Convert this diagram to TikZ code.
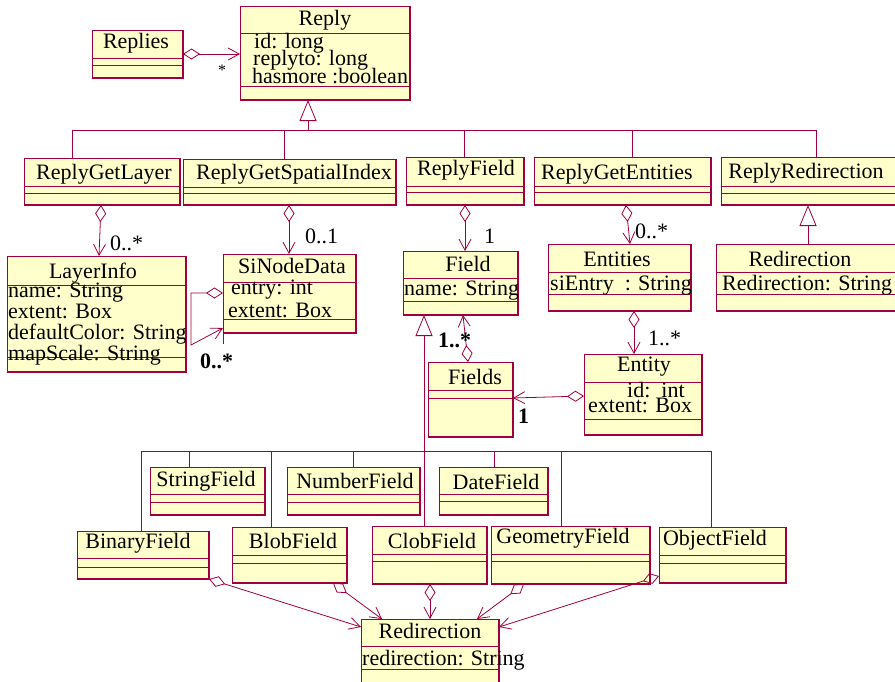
\documentclass[tikz,border=0pt]{standalone}
\usepackage{fontspec}
\setmainfont{Liberation Serif}
\usetikzlibrary{arrows.meta}
\definecolor{umlred}{RGB}{160,0,64}
\definecolor{umlfill}{RGB}{255,255,204}

\tikzset{
  classbox/.style={rectangle, draw=umlred, fill=umlfill, line width=0.9pt, inner sep=0pt, outer sep=0pt},
  sepline/.style={draw=umlred, line width=0.8pt},
  edgeline/.style={draw=umlred, line width=1.8pt},
  conn/.style={draw=umlred, line width=0.8pt},
  agg/.style={conn, {Diamond[open,length=17pt,width=11pt]}-{Straight Barb[length=11pt,width=12pt]}},
  gen/.style={conn, -{Triangle[length=21pt,width=17pt,fill=white]}},
  title/.style={font=\fontsize{22}{24}\selectfont, inner sep=0pt, anchor=base},
  attr/.style={font=\fontsize{22}{24}\selectfont, inner sep=0pt, anchor=base west, text height=13pt, text depth=2pt},
  mult/.style={font=\fontsize{22}{24}\selectfont, inner sep=0pt, anchor=base west},
  multb/.style={font=\fontsize{22}{24}\selectfont\bfseries, inner sep=0pt, anchor=base west}
}

% class box: name, x1, y1, x2, y2, first separator, second separator
\newcommand{\umlclassbox}[7]{%
  \node[classbox, minimum width={#4-#2}, minimum height={#5-#3}] (#1) at ({(#2+#4)/2},{(#3+#5)/2}) {};
  \draw[sepline] (#1.west |- 0,#6) -- (#1.east |- 0,#6);
  \draw[sepline] (#1.west |- 0,#7) -- (#1.east |- 0,#7);
  \draw[edgeline] (#1.north east) -- (#1.south east) -- (#1.south west);
}

\begin{document}
\begin{tikzpicture}[x=1pt,y=-1pt]
\useasboundingbox (0,0) rectangle (895,681);
\clip (0,0) rectangle (895,681);
\fill[white] (0,0) rectangle (895,681);

% ---- classes
\umlclassbox{replies}{92}{30}{183}{78}{58}{65}
\umlclassbox{reply}{240}{6}{410}{100}{33}{86}
\umlclassbox{replygetlayer}{24}{158}{180}{205}{186}{193}
\umlclassbox{replygetspatialindex}{183}{159}{396}{205}{187}{193}
\umlclassbox{replyfield}{406}{157}{524}{205}{186}{192}
\umlclassbox{replygetentities}{534}{157}{711}{205}{186}{192}
\umlclassbox{replyredirection}{721}{157}{905}{205}{186}{193}
\umlclassbox{layerinfo}{7}{256}{186}{372}{285}{357}
\umlclassbox{sinodedata}{223}{254}{356}{333}{282}{319}
\umlclassbox{field}{403}{251}{518}{315}{278}{301}
\umlclassbox{entities}{548}{244}{691}{311}{272}{294}
\umlclassbox{redirectionR}{716}{244}{905}{311}{272}{294}
\umlclassbox{entity}{584}{354}{702}{435}{382}{419}
\umlclassbox{fields}{428}{362}{513}{437}{390}{398}
\umlclassbox{stringfield}{150}{467}{265}{515}{494}{502}
\umlclassbox{numberfield}{287}{467}{420}{515}{494}{502}
\umlclassbox{datefield}{439}{467}{548}{515}{494}{501}
\umlclassbox{binaryfield}{77}{531}{209}{579}{558}{567}
\umlclassbox{blobfield}{232}{527}{347}{583}{555}{563}
\umlclassbox{clobfield}{372}{526}{487}{584}{554}{561}
\umlclassbox{geometryfield}{491}{526}{650}{584}{554}{561}
\umlclassbox{objectfield}{659}{527}{786}{583}{555}{563}
\umlclassbox{redirectionB}{361}{619}{499}{700}{646}{669}

% ---- inheritance from Reply
\coordinate (b0) at (308,130);
\coordinate (b1) at (72,130);
\coordinate (b2) at (284,130);
\coordinate (b3) at (464,130);
\coordinate (b4) at (632,130);
\coordinate (b5) at (816,130);
\draw[gen] (b0) -- (b0 |- reply.south);
\draw[conn] (b1) -- (b5);
\draw[conn] (b1) -- (b1 |- replygetlayer.north);
\draw[conn] (b2) -- (b2 |- replygetspatialindex.north);
\draw[conn] (b3) -- (b3 |- replyfield.north);
\draw[conn] (b4) -- (b4 |- replygetentities.north);
\draw[conn] (b5) -- (b5 |- replyredirection.north);

% ---- inheritance from Field
\coordinate (f0) at (424,451);
\coordinate (f1) at (141,451);
\coordinate (f2) at (711,451);
\coordinate (g1) at (189,451);
\coordinate (g2) at (271,451);
\coordinate (g3) at (353,451);
\coordinate (g4) at (494,451);
\coordinate (g5) at (561,451);
\draw[gen] (f0 |- clobfield.north) -- (f0 |- field.south);
\draw[conn] (f1) -- (f2);
\draw[conn] (f1) -- (f1 |- binaryfield.north);
\draw[conn] (f2) -- (f2 |- objectfield.north);
\draw[conn] (g1) -- (g1 |- stringfield.north);
\draw[conn] (g2) -- (g2 |- blobfield.north);
\draw[conn] (g3) -- (g3 |- numberfield.north);
\draw[conn] (g4) -- (g4 |- datefield.north);
\draw[conn] (g5) -- (g5 |- geometryfield.north);

% ---- inheritance Redirection -> ReplyRedirection
\coordinate (r0) at (808,230);
\draw[gen] (r0 |- redirectionR.north) -- (r0 |- replyredirection.south);

% ---- aggregations
\draw[agg] (replies.east) -- (replies.east -| reply.west);
\draw[agg] (replygetlayer.south -| 101,0) -- (layerinfo.north -| 99,0);
\draw[agg] (replygetspatialindex.south -| 289,0) -- (sinodedata.north -| 289,0);
\draw[agg] (replyfield.south -| 465,0) -- (field.north -| 465,0);
\draw[agg] (replygetentities.south -| 626,0) -- (entities.north -| 630,0);
\draw[agg] (entities.south -| 634,0) -- (entity.north -| 634,0);
\draw[agg] (entity.west |- 0,396) -- (fields.east |- 0,398);
\draw[agg] (fields.north -| 468,0) -- (field.south -| 463,0);

\coordinate (l1) at (191,293);
\coordinate (l2) at (191,345);
\draw[agg] (l1 -| sinodedata.west) -- (l1) -- (l2) -- (sinodedata.west |- 0,328);
\draw[conn] (sinodedata.west |- 0,333) -- (sinodedata.west |- 0,344);

\draw[agg] (binaryfield.south east) -- (redirectionB.west |- 0,627);
\draw[agg] (blobfield.south -| 333,0) -- (redirectionB.north -| 382,0);
\draw[agg] (clobfield.south -| 430,0) -- (redirectionB.north -| 430,0);
\draw[agg] (geometryfield.south -| 524,0) -- (redirectionB.north -| 477,0);
\draw[agg] (objectfield.west |- 0,576) -- (redirectionB.east |- 0,627);

% ---- class names and attributes
\node[title] (replies-n) at (136,48) {Replies};
\node[title] (reply-n) at (325,25) {Reply};
\node[attr] (reply-a1) at (254,48) {id: long};
\node[attr] (reply-a2) at (253,65) {replyto: long};
\node[attr] (reply-a3) at (252,83) {hasmore :boolean};

\node[title] (replygetlayer-n) at (104,179) {ReplyGetLayer};
\node[title] (replygetspatialindex-n) at (294,179) {ReplyGetSpatialIndex};
\node[title] (replyfield-n) at (466,175) {ReplyField};
\node[title] (replygetentities-n) at (617,179) {ReplyGetEntities};
\node[title] (replyredirection-n) at (806,178) {ReplyRedirection};

\node[title] (layerinfo-n) at (93,278) {LayerInfo};
\node[attr] (layerinfo-a1) at (8,297) {name: String};
\node[attr] (layerinfo-a2) at (8,318) {extent: Box};
\node[attr] (layerinfo-a3) at (8,339) {defaultColor: String};
\node[attr] (layerinfo-a4) at (8,360) {mapScale: String};

\node[title] (sinodedata-n) at (292,273) {SiNodeData};
\node[attr] (sinodedata-a1) at (231,294) {entry: int};
\node[attr] (sinodedata-a2) at (228,317) {extent: Box};

\node[title] (field-n) at (468,271) {Field};
\node[attr] (field-a1) at (404,295) {name: String};

\node[title] (entities-n) at (617,266) {Entities};
\node[attr] (entities-a1) at (550,290) {siEntry\ \ : String};

\node[title] (redirectionR-n) at (800,266) {Redirection};
\node[attr] (redirectionR-a1) at (722,290) {Redirection: String};

\node[title] (entity-n) at (644,371) {Entity};
\node[attr] (entity-a1) at (627,397) {id:\ \ int};
\node[attr] (entity-a2) at (588,412) {extent: Box};

\node[title] (fields-n) at (475,384) {Fields};

\node[title] (stringfield-n) at (206,486) {StringField};
\node[title] (numberfield-n) at (355,488) {NumberField};
\node[title] (datefield-n) at (496,489) {DateField};
\node[title] (binaryfield-n) at (138,548) {BinaryField};
\node[title] (blobfield-n) at (293,548) {BlobField};
\node[title] (clobfield-n) at (432,548) {ClobField};
\node[title] (geometryfield-n) at (563,543) {GeometryField};
\node[title] (objectfield-n) at (715,545) {ObjectField};

\node[title] (redirectionB-n) at (430,638) {Redirection};
\node[attr] (redirectionB-a1) at (362,665) {redirection: String};

% ---- multiplicities
\node[font=\fontsize{16}{18}\selectfont, inner sep=0pt] (m-replies) at (222,70) {*};
\node[mult] (m-layer) at (110,250) {0..*};
\node[mult] (m-sinode) at (305,243) {0..1};
\node[mult] (m-field) at (484,243) {1};
\node[mult] (m-entities) at (635,238) {0..*};
\node[mult] (m-entity) at (648,345) {1..*};
\node[multb] (m-fields) at (438,347) {1..*};
\node[multb] (m-fieldsone) at (518,423) {1};
\node[multb] (m-self) at (200,368) {0..*};
\end{tikzpicture}
\end{document}
